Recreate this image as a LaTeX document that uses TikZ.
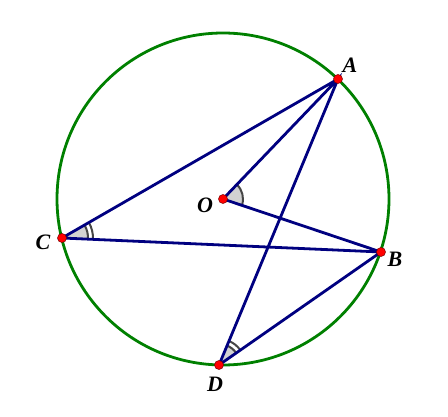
\documentclass[tikz,border=0pt]{standalone}
\usepackage{fontspec}
\setmainfont{Liberation Serif}
\usetikzlibrary{calc}
\begin{document}
\begin{tikzpicture}[x=1pt,y=-1pt,
  seg/.style={draw={rgb,255:red,0;green,0;blue,128},line width=2.8pt},
  circ/.style={draw={rgb,255:red,0;green,128;blue,0},line width=2.8pt},
  pt/.style={circle,fill=red,draw={rgb,255:red,120;green,0;blue,0},line width=0.5pt,inner sep=0pt,minimum size=9pt},
  lbl/.style={font=\fontsize{22}{22}\selectfont\bfseries\itshape},
  angfill/.style={fill={rgb,255:red,210;green,210;blue,210}},
  angarc/.style={draw={rgb,255:red,70;green,70;blue,70},line width=2pt}]
\useasboundingbox (0,0) rectangle (448,417);
\coordinate (Oc) at (223,199);
\coordinate (A) at (338,79);
\coordinate (B) at (381,252);
\coordinate (C) at (62,238);
\coordinate (D) at (219,365);
\draw[circ] (Oc) circle (166);
% angle fills
\fill[angfill] (Oc) -- ($(Oc)!20pt!(A)$) arc[start angle=-46.2, end angle=18.5, radius=20] -- cycle;
\fill[angfill] (C) -- ($(C)!27pt!(A)$) arc[start angle=-29.9, end angle=2.5, radius=27] -- cycle;
\fill[angfill] (D) -- ($(D)!22pt!(A)$) arc[start angle=-67.4, end angle=-34.9, radius=22] -- cycle;
% arcs
\draw[angarc] ($(Oc)!20pt!(A)$) arc[start angle=-46.2, end angle=18.5, radius=20];
\draw[angarc] ($(C)!26pt!(A)$) arc[start angle=-29.9, end angle=2.5, radius=26];
\draw[angarc] ($(C)!31pt!(A)$) arc[start angle=-29.9, end angle=2.5, radius=31];
\draw[angarc] ($(D)!21pt!(A)$) arc[start angle=-67.4, end angle=-34.9, radius=21];
\draw[angarc] ($(D)!26pt!(A)$) arc[start angle=-67.4, end angle=-34.9, radius=26];
% segments
\draw[seg] (A) -- (C) -- (B) -- (D) -- (A) -- (Oc) -- (B);
\node[pt] (a) at (A) {};
\node[pt] (b) at (B) {};
\node[pt] (c) at (C) {};
\node[pt] (d) at (D) {};
\node[pt] (o) at (Oc) {};
\node[lbl] (la) at (350,65) {A};
\node[lbl] (lb) at (395,259) {B};
\node[lbl] (lc) at (43,242) {C};
\node[lbl] (ld) at (215,384) {D};
\node[lbl] (lo) at (205,205) {O};
\end{tikzpicture}
\end{document}
